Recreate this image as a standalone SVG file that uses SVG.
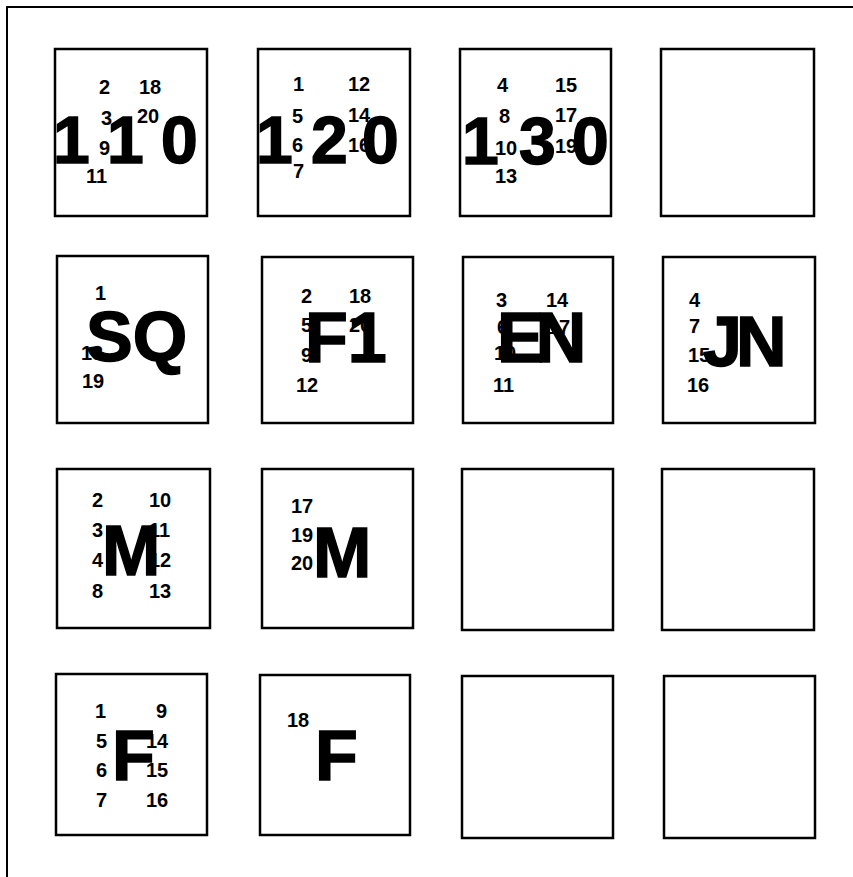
<svg xmlns="http://www.w3.org/2000/svg" width="853" height="877" viewBox="0 0 853 877">
<style>
.frame{fill:none;stroke:#000;stroke-width:2}
.box{fill:none;stroke:#000;stroke-width:2.5}
text{font-family:"Liberation Sans",Arial,sans-serif;font-weight:bold;fill:#000}
.s{font-size:20px}
.b{font-size:66px;stroke:#000;stroke-width:1.5}
.L{font-size:70px;stroke:#000;stroke-width:1.5}
</style>
<rect x="0" y="0" width="853" height="877" fill="#fff"/>
<path class="frame" d="M7,877 V7 H853"/>
<g id="r1c1">
<rect class="box" x="55" y="49" width="152" height="167"/>
<text class="s" x="99" y="94">2</text><text class="s" x="139" y="94">18</text>
<text class="s" x="101" y="125">3</text><text class="s" x="137" y="123">20</text>
<text class="s" x="99" y="155">9</text>
<text class="s" x="86" y="183">11</text>
<text class="b" x="53" y="163">1</text><text class="b" x="107" y="163">1</text><text class="b" x="161" y="163">0</text>
</g>
<g id="r1c2">
<rect class="box" x="258" y="49" width="152" height="167"/>
<text class="s" x="293" y="91">1</text><text class="s" x="348" y="91">12</text>
<text class="s" x="292" y="123">5</text><text class="s" x="348" y="122">14</text>
<text class="s" x="292" y="152">6</text><text class="s" x="348" y="152">16</text>
<text class="s" x="293" y="178">7</text>
<text class="b" x="256" y="163">1</text><text class="b" x="311" y="163">2</text><text class="b" x="362" y="163">0</text>
</g>
<g id="r1c3">
<rect class="box" x="460" y="49" width="151" height="167"/>
<text class="s" x="497" y="92">4</text><text class="s" x="555" y="92">15</text>
<text class="s" x="499" y="123">8</text><text class="s" x="555" y="122">17</text>
<text class="s" x="495" y="155">10</text><text class="s" x="555" y="153">19</text>
<text class="s" x="495" y="183">13</text>
<text class="b" x="462" y="164">1</text><text class="b" x="519" y="164">3</text><text class="b" x="572" y="164">0</text>
</g>
<g id="r1c4"><rect class="box" x="661" y="49" width="153" height="167"/></g>
<g id="r2c1">
<rect class="box" x="57" y="256" width="151" height="167"/>
<text class="s" x="95" y="300">1</text>
<text class="s" x="81" y="360">13</text>
<text class="s" x="82" y="388">19</text>
<text class="L" x="86" y="361">SQ</text>
</g>
<g id="r2c2">
<rect class="box" x="262" y="257" width="151" height="166"/>
<text class="s" x="301" y="303">2</text><text class="s" x="349" y="303">18</text>
<text class="s" x="301" y="332">5</text><text class="s" x="349" y="332">20</text>
<text class="s" x="301" y="362">9</text>
<text class="s" x="296" y="392">12</text>
<text class="L" x="305" y="362">F1</text>
</g>
<g id="r2c3">
<rect class="box" x="463" y="257" width="150" height="166"/>
<text class="s" x="496" y="307">3</text><text class="s" x="546" y="307">14</text>
<text class="s" x="497" y="334">6</text><text class="s" x="548" y="334">17</text>
<text class="s" x="494" y="360">10</text>
<text class="s" x="493" y="392">11</text>
<text class="L" x="497" y="362" letter-spacing="-8">EN</text>
</g>
<g id="r2c4">
<rect class="box" x="663" y="257" width="152" height="166"/>
<text class="s" x="689" y="307">4</text>
<text class="s" x="689" y="333">7</text>
<text class="s" x="688" y="362">15</text>
<text class="s" x="687" y="392">16</text>
<text class="L" x="703" y="366" letter-spacing="-6">JN</text>
</g>
<g id="r3c1">
<rect class="box" x="57" y="469" width="153" height="159"/>
<text class="s" x="92" y="507">2</text><text class="s" x="149" y="507">10</text>
<text class="s" x="92" y="537">3</text><text class="s" x="149" y="537">11</text>
<text class="s" x="92" y="567">4</text><text class="s" x="149" y="567">12</text>
<text class="s" x="92" y="598">8</text><text class="s" x="149" y="598">13</text>
<text class="L" x="102" y="575">M</text>
</g>
<g id="r3c2">
<rect class="box" x="262" y="469" width="151" height="159"/>
<text class="s" x="291" y="513">17</text>
<text class="s" x="291" y="542">19</text>
<text class="s" x="291" y="570">20</text>
<text class="L" x="313" y="577">M</text>
</g>
<g id="r3c3"><rect class="box" x="462" y="469" width="151" height="161"/></g>
<g id="r3c4"><rect class="box" x="662" y="469" width="152" height="161"/></g>
<g id="r4c1">
<rect class="box" x="56" y="674" width="151" height="161"/>
<text class="s" x="95" y="718">1</text><text class="s" x="156" y="718">9</text>
<text class="s" x="96" y="748">5</text><text class="s" x="146" y="748">14</text>
<text class="s" x="96" y="777">6</text><text class="s" x="146" y="777">15</text>
<text class="s" x="96" y="807">7</text><text class="s" x="146" y="807">16</text>
<text class="L" x="112" y="780">F</text>
</g>
<g id="r4c2">
<rect class="box" x="260" y="675" width="150" height="160"/>
<text class="s" x="287" y="727">18</text>
<text class="L" x="315" y="780">F</text>
</g>
<g id="r4c3"><rect class="box" x="462" y="676" width="151" height="162"/></g>
<g id="r4c4"><rect class="box" x="664" y="676" width="151" height="162"/></g>
<g id="connectors"></g>
</svg>
